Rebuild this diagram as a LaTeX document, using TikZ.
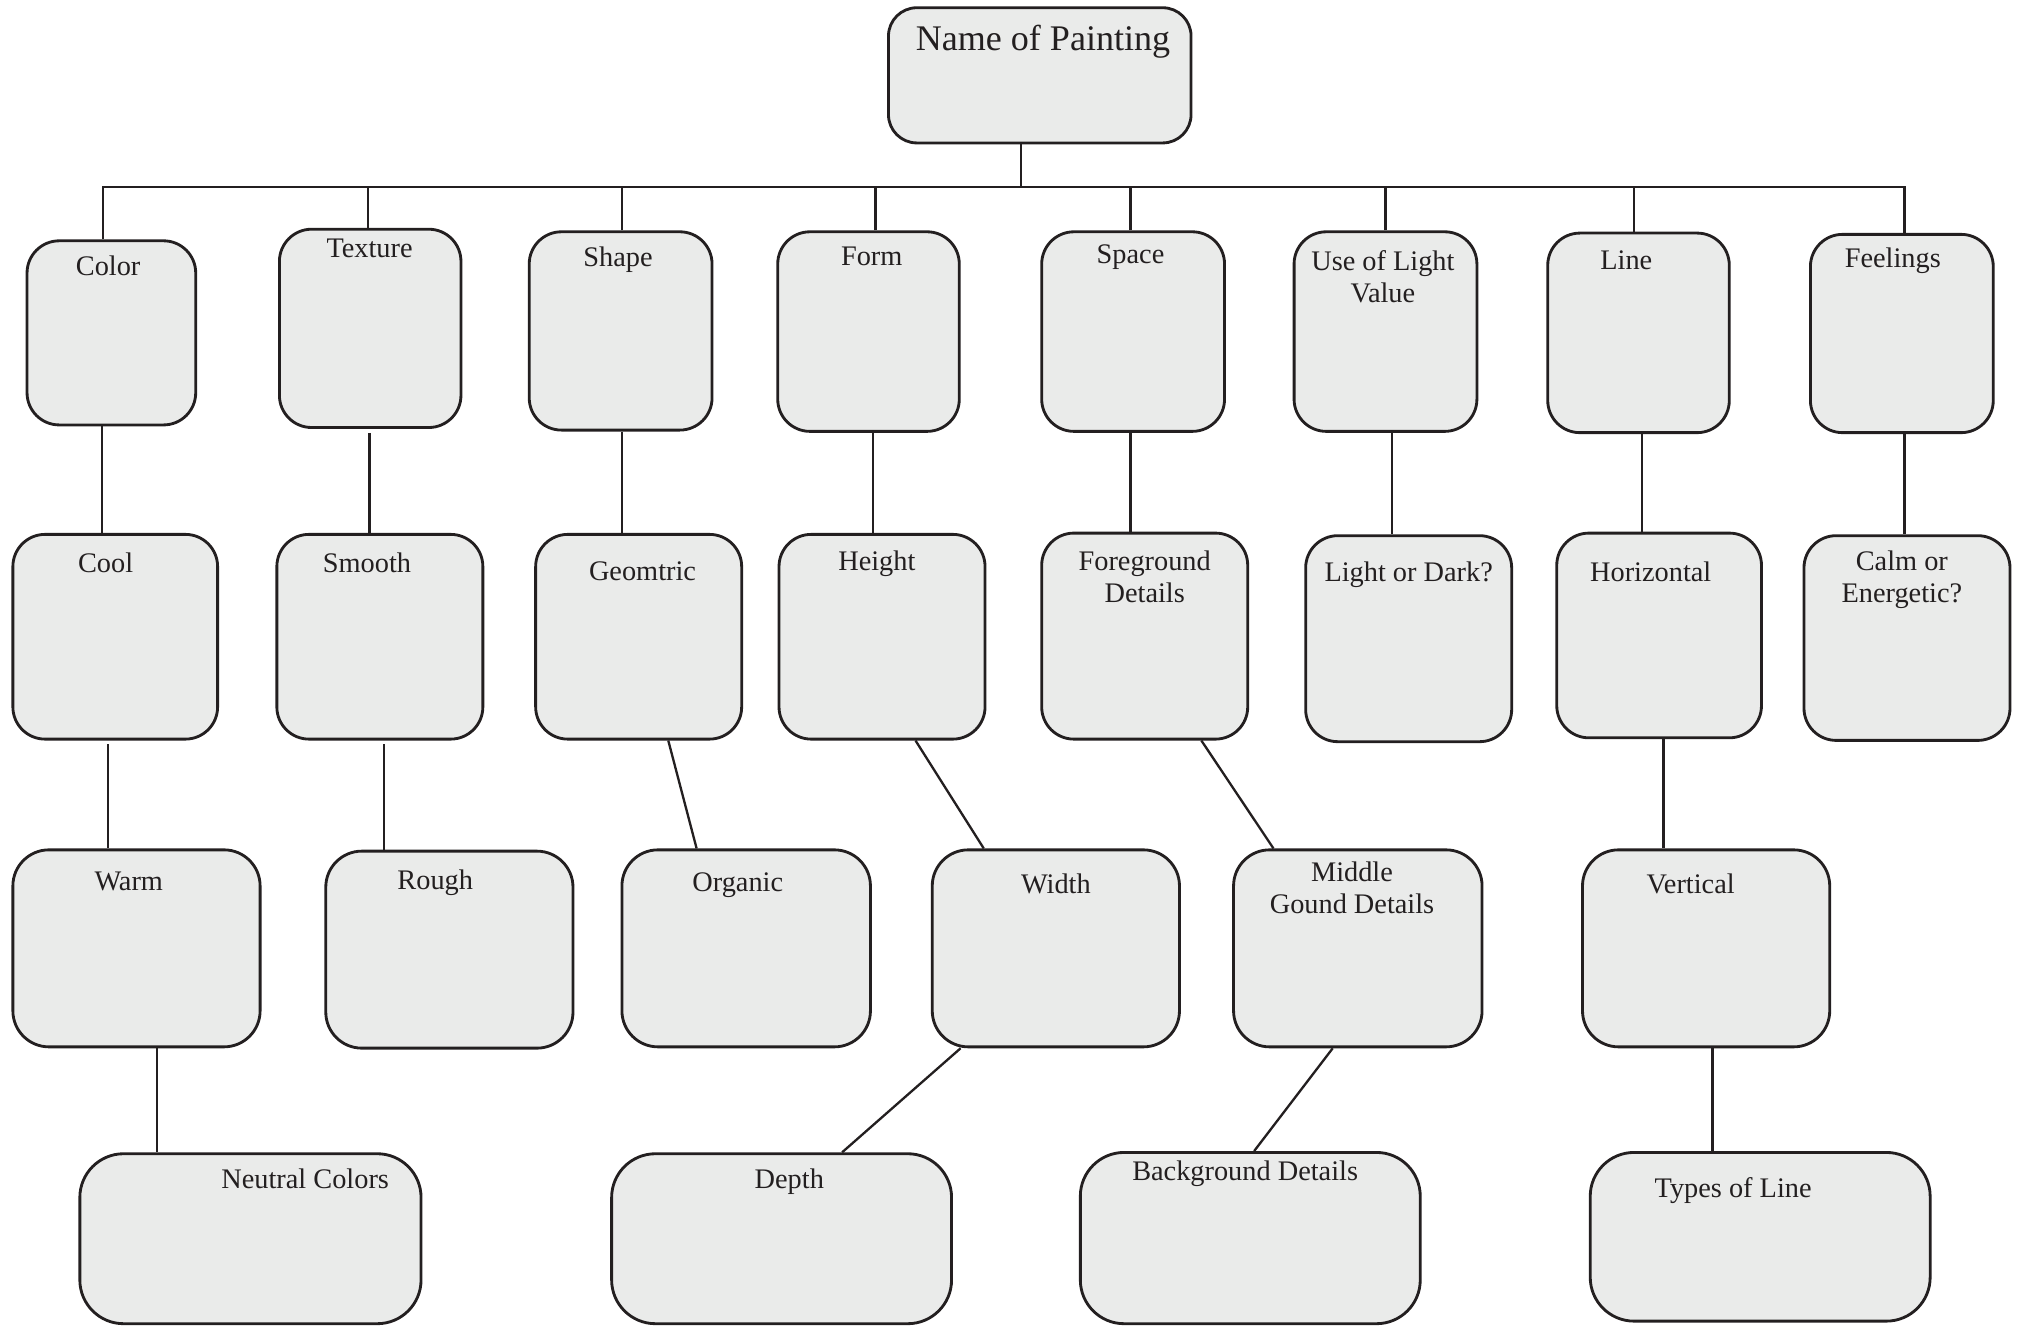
\documentclass[tikz,border=0pt]{standalone}
\usepackage{fontspec}
\setmainfont{Liberation Serif}
\definecolor{ink}{HTML}{231F20}
\definecolor{boxfill}{HTML}{EAEBEA}
\tikzset{
  box/.style={draw=ink, fill=boxfill, line width=1.1pt, inner sep=0pt, rectangle},
  lbl/.style={text=ink, inner sep=0pt, anchor=north, align=center, font=\fontsize{11}{12.5}\selectfont},
  conn/.style={draw=ink, line width=0.9pt}
}
\newcommand\bx[6]{\node[box, rounded corners=#6, minimum width={(#4-#2)*0.5pt}, minimum height={(#5-#3)*0.5pt}] (#1) at ({(#2+#4)/2},{(#3+#5)/2}) {};}
\begin{document}
\begin{tikzpicture}[x=0.5pt,y=-0.5pt]
\useasboundingbox (0,0) rectangle (1568,1030);
% boxes
\bx{name}{690}{6}{925}{111}{11pt}
\bx{color}{21}{187}{152}{330}{12.5pt}
\bx{texture}{217}{178}{358}{332}{12.5pt}
\bx{shape}{411}{180}{553}{334}{12.5pt}
\bx{form}{604}{180}{745}{335}{12.5pt}
\bx{space}{809}{180}{951}{335}{12.5pt}
\bx{light}{1005}{180}{1147}{335}{12.5pt}
\bx{line}{1202}{181}{1343}{336}{12.5pt}
\bx{feel}{1406}{182}{1548}{336}{12.5pt}
\bx{cool}{10}{415}{169}{574}{12.5pt}
\bx{smooth}{215}{415}{375}{574}{12.5pt}
\bx{geom}{416}{415}{576}{574}{12.5pt}
\bx{height}{605}{415}{765}{574}{12.5pt}
\bx{fore}{809}{414}{969}{574}{12.5pt}
\bx{dark}{1014}{416}{1174}{576}{12.5pt}
\bx{horiz}{1209}{414}{1368}{573}{12.5pt}
\bx{calm}{1401}{416}{1561}{575}{12.5pt}
\bx{warm}{10}{660}{202}{813}{14pt}
\bx{rough}{253}{661}{445}{814}{14pt}
\bx{organic}{483}{660}{676}{813}{14pt}
\bx{width}{724}{660}{916}{813}{14pt}
\bx{middle}{958}{660}{1151}{813}{14pt}
\bx{vertical}{1229}{660}{1421}{813}{14pt}
\bx{neutral}{62}{896}{327}{1028}{17pt}
\bx{depth}{475}{896}{739}{1028}{17pt}
\bx{backg}{839}{895}{1103}{1028}{17pt}
\bx{types}{1235}{895}{1499}{1026}{17pt}
% labels
\node[lbl, font=\fontsize{14}{16}\selectfont] (tname) at (810,19) {Name of Painting};
\node[lbl] (tcolor) at (84,198) {Color};
\node[lbl] (ttexture) at (287,185) {Texture};
\node[lbl] (tshape) at (480,191) {Shape};
\node[lbl] (tform) at (677,191) {Form};
\node[lbl] (tspace) at (878,190) {Space};
\node[lbl] (tlight) at (1074,194) {Use of Light\\Value};
\node[lbl] (tline) at (1263,194) {Line};
\node[lbl] (tfeel) at (1470,192) {Feelings};
\node[lbl] (tcool) at (82,429) {Cool};
\node[lbl] (tsmooth) at (285,429) {Smooth};
\node[lbl] (tgeom) at (499,436) {Geomtric};
\node[lbl] (theight) at (681,427) {Height};
\node[lbl] (tfore) at (889,427) {Foreground\\Details};
\node[lbl] (tdark) at (1094,436) {Light or Dark?};
\node[lbl] (thoriz) at (1282,436) {Horizontal};
\node[lbl] (tcalm) at (1477,427) {Calm or\\Energetic?};
\node[lbl] (twarm) at (100,677) {Warm};
\node[lbl] (trough) at (338,675) {Rough};
\node[lbl] (torganic) at (573,677) {Organic};
\node[lbl] (twidth) at (820,678) {Width};
\node[lbl] (tmiddle) at (1050,669) {Middle\\Gound Details};
\node[lbl] (tvertical) at (1313,678) {Vertical};
\node[lbl] (tneutral) at (237,907) {Neutral Colors};
\node[lbl] (tdepth) at (613,907) {Depth};
\node[lbl] (tbackg) at (967,901) {Background Details};
\node[lbl] (ttypes) at (1346,914) {Types of Line};
% bus
\coordinate (bus) at (793,145);
\draw[conn] ([xshift=-7.25pt]name.south) -- (bus);
\draw[conn] ([xshift=-3.25pt]color.north) |- (bus);
\draw[conn] ([xshift=-0.75pt]texture.north) |- (bus);
\draw[conn] ([xshift=0.5pt]shape.north) |- (bus);
\draw[conn] ([xshift=2.75pt]form.north) |- (bus);
\draw[conn] ([xshift=-1pt]space.north) |- (bus);
\draw[conn] ([xshift=0pt]light.north) |- (bus);
\draw[conn] ([xshift=-1.75pt]line.north) |- (bus);
\draw[conn] ([xshift=1pt]feel.north) |- (bus);
% row 1 -> row 2
\draw[conn] ([xshift=-3.75pt]color.south) -- ([xshift=-5.25pt]cool.north);
\draw[conn] ([xshift=-0.25pt,yshift=-1.5pt]texture.south) -- ([xshift=-4pt]smooth.north);
\draw[conn] ([xshift=0.5pt]shape.south) -- ([xshift=-6.5pt]geom.north);
\draw[conn] ([xshift=1.75pt]form.south) -- ([xshift=-3.5pt]height.north);
\draw[conn] ([xshift=-1pt]space.south) -- ([xshift=-5.5pt]fore.north);
\draw[conn] ([xshift=2.5pt]light.south) -- ([xshift=-6.5pt]dark.north);
\draw[conn] ([xshift=1.25pt]line.south) -- ([xshift=-6.75pt]horiz.north);
\draw[conn] ([xshift=1pt]feel.south) -- ([xshift=-1pt]calm.north);
% row 2 -> row 3
\draw[conn] ([xshift=-2.75pt,yshift=-1.5pt]cool.south) -- ([xshift=-11pt]warm.north);
\draw[conn] ([xshift=1.5pt,yshift=-1.5pt]smooth.south) -- ([xshift=-25.5pt]rough.north);
\draw[conn] ([xshift=11.5pt]geom.south) -- ([xshift=-19.25pt]organic.north);
\draw[conn] ([xshift=13pt]height.south) -- ([xshift=-28pt]width.north);
\draw[conn] ([xshift=22pt]fore.south) -- ([xshift=-32.75pt]middle.north);
\draw[conn] ([xshift=1.75pt]horiz.south) -- ([xshift=-16.5pt]vertical.north);
% row 3 -> row 4
\draw[conn] ([xshift=8pt]warm.south) -- ([xshift=-36.25pt]neutral.north);
\draw[conn] ([xshift=-37pt]width.south) -- ([xshift=23.5pt]depth.north);
\draw[conn] ([xshift=-9.75pt]middle.south) -- ([xshift=1.5pt]backg.north);
\draw[conn] ([xshift=2.5pt]vertical.south) -- ([xshift=-18.5pt]types.north);
\end{tikzpicture}
\end{document}
